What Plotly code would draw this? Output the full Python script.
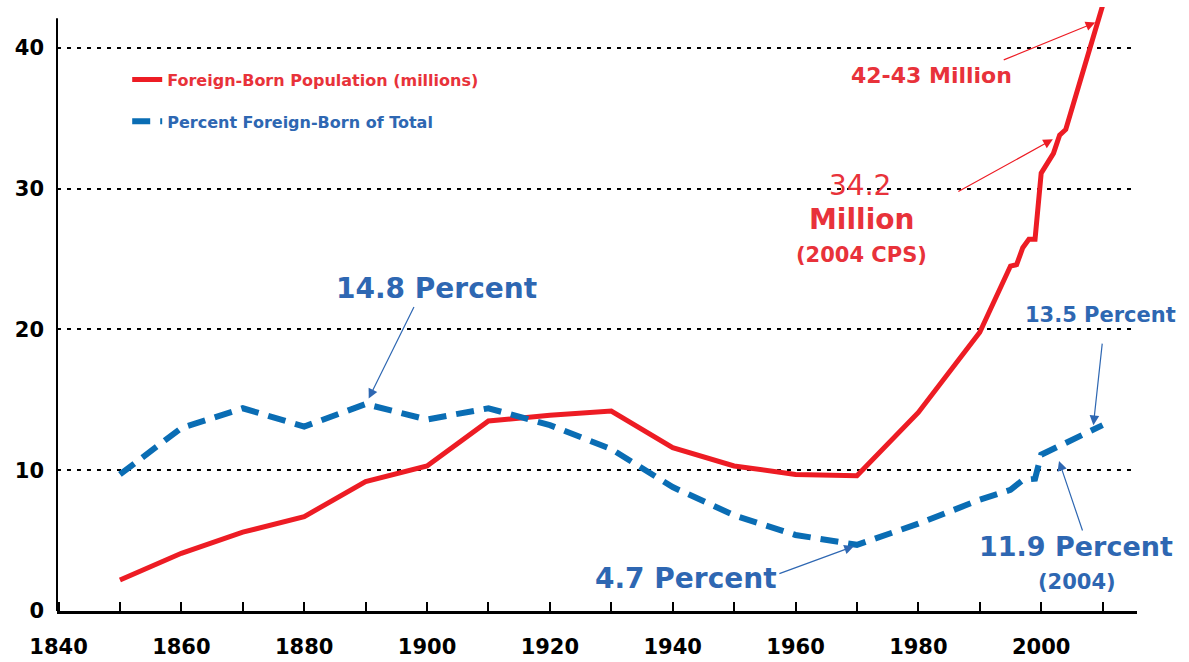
import plotly.graph_objects as go

# foreign-born population, millions
pop_years = [1850, 1860, 1870, 1880, 1890, 1900, 1910, 1920, 1930, 1940, 1950, 1960, 1970,
             1980, 1990, 1995, 1996, 1997, 1998, 1999, 2000, 2001, 2002, 2003, 2004, 2010]
pop_millions = [2.2, 4.1, 5.6, 6.7, 9.2, 10.3, 13.5, 13.9, 14.2, 11.6, 10.3, 9.7, 9.6,
                14.1, 19.8, 24.5, 24.6, 25.8, 26.4, 26.4, 31.1, 31.8, 32.5, 33.8, 34.2, 43.0]

# percent foreign-born of total population
pct_years = [1850, 1860, 1870, 1880, 1890, 1900, 1910, 1920, 1930, 1940, 1950, 1960, 1970,
             1980, 1990, 1995, 1997, 1998, 1999, 2000, 2004, 2010]
pct_values = [9.7, 13.0, 14.4, 13.1, 14.7, 13.6, 14.4, 13.2, 11.5, 8.8, 6.8, 5.4, 4.7,
              6.2, 7.9, 8.6, 9.3, 9.3, 9.4, 11.1, 11.9, 13.2]

x_ticks = [1840, 1860, 1880, 1900, 1920, 1940, 1960, 1980, 2000]
y_ticks = [0, 10, 20, 30, 40]

RED = '#ED1C24'
RED_TXT = '#E8323A'
BLUE_LINE = '#0A6DB4'
BLUE_TXT = '#2E67B2'
FONT = 'DejaVu Sans'

fig = go.Figure()
fig.add_trace(go.Scatter(x=pop_years, y=pop_millions, mode='lines',
                         name='<span style="color:%s">Foreign-Born Population (millions)</span>' % RED_TXT,
                         legendgroup='a', line=dict(color=RED, width=5)))
fig.add_trace(go.Scatter(x=pct_years, y=pct_values, mode='lines',
                         name='<span style="color:%s">Percent Foreign-Born of Total</span>' % BLUE_TXT,
                         legendgroup='b', line=dict(color=BLUE_LINE, width=6, dash='18px,10px')))

# y axis line (stops a little below the top of the chart)
fig.add_shape(type='line', xref='paper', yref='y', x0=0, x1=0, y0=0, y1=42.1,
              line=dict(color='black', width=2))

def note(x, y, text, color, size, bold=True):
    fig.add_annotation(x=x, y=y, text=text, showarrow=False,
                       font=dict(family=FONT, size=size, color=color,
                                 weight='bold' if bold else 'normal'))

def arrow(x, y, ax, ay, color):
    fig.add_annotation(x=x, y=y, ax=ax, ay=ay, text='', showarrow=True,
                       arrowhead=2, arrowsize=1.6, arrowwidth=1.2, arrowcolor=color, standoff=0)

note(1901.6, 22.9, '14.8 Percent', BLUE_TXT, 28)
arrow(1890.5, 15.1, 46, -93, BLUE_TXT)
note(1942.2, 2.34, '4.7 Percent', BLUE_TXT, 28)
arrow(1969.5, 4.6, -76, 28, BLUE_TXT)
note(2005.7, 4.6, '11.9 Percent', BLUE_TXT, 27)
note(2005.9, 2.06, '(2004)', BLUE_TXT, 21)
arrow(2002.9, 10.65, 24, 71, BLUE_TXT)
note(2009.6, 21.0, '13.5 Percent', BLUE_TXT, 21)
arrow(2008.5, 13.2, 9, -83, BLUE_TXT)

note(1982.2, 38.0, '42-43 Million', RED_TXT, 22)
arrow(2008.8, 41.8, -93, 38, RED)
note(1970.5, 30.2, '34.2', RED_TXT, 28, bold=False)
note(1970.8, 27.8, 'Million', RED_TXT, 28)
note(1970.8, 25.3, '(2004 CPS)', RED_TXT, 21)
arrow(2001.9, 33.5, -96, 53, RED)

fig.update_layout(
    width=1189, height=662,
    margin=dict(l=57, r=52, t=7, b=51, autoexpand=False),
    paper_bgcolor='white', plot_bgcolor='white',
    font=dict(family=FONT, color='black'),
    showlegend=True,
    legend=dict(x=0.065, y=0.908, xanchor='left', yanchor='top',
                bgcolor='rgba(0,0,0,0)', tracegroupgap=18,
                font=dict(family=FONT, size=16, weight='bold')),
    xaxis=dict(range=[1839.75, 2015.6], tickvals=x_ticks, ticks='inside', ticklen=9,
               tickwidth=1.5, tickcolor='black', showgrid=False, zeroline=False,
               showline=True, linecolor='black', linewidth=3, automargin=False,
               minor=dict(dtick=10, tick0=1840, ticks='inside', ticklen=9,
                          tickwidth=1.5, tickcolor='black', showgrid=False),
               ticklabelstandoff=15,
               tickfont=dict(family=FONT, size=21, weight='bold', color='black')),
    yaxis=dict(range=[0, 42.9], tickvals=y_ticks, showgrid=True, gridcolor='black',
               gridwidth=1.5, griddash='4px,6px', zeroline=False, showline=False,
               ticks='', ticklabelstandoff=12, automargin=False,
               tickfont=dict(family=FONT, size=21, weight='bold', color='black')),
)

# the page's default body margin would shift the chart, so drop it
fig.write_html('out.html', config={'displayModeBar': False},
               post_script="document.body.style.margin='0';")
